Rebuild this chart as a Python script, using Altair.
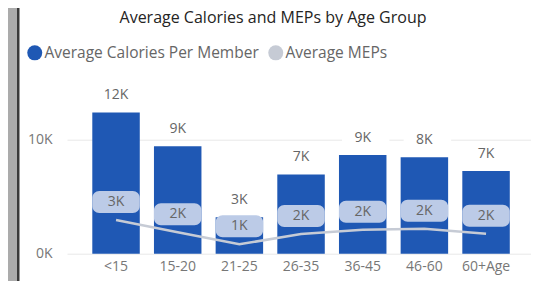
import altair as alt
import pandas as pd

ages = ["<15", "15-20", "21-25", "26-35", "36-45", "46-60", "60+Age"]
calories = [12360, 9410, 3180, 6940, 8630, 8430, 7230]
meps = [2950, 1880, 820, 1720, 2100, 2190, 1750]

S1 = "Average Calories Per Member"
S2 = "Average MEPs"
BLUE = "#1f58b4"
GREY = "#c6cbd5"
LABEL_BG = "#bccbe7"
FONT = "Open Sans"
TXT = "#666666"

df = pd.DataFrame({"age": ages, "calories": calories, "meps": meps})
one = pd.DataFrame({"k": [0]})

W, H = 464, 160

x_enc = alt.X(
    "age:N", sort=ages,
    scale=alt.Scale(paddingInner=0.23, paddingOuter=0.377, align=0.544),
    axis=alt.Axis(title=None, labelFontSize=14, labelColor="#777777", labelPadding=6,
                  ticks=False, domain=False, labelAngle=0, labelFont=FONT, grid=False, zindex=1),
)
y_enc = alt.Y(
    "calories:Q",
    scale=alt.Scale(domain=[0, 14000], nice=False),
    axis=alt.Axis(values=[0, 10000], labelExpr="datum.value / 1000 + 'K'", title=None,
                  ticks=False, domain=False, labelPadding=15, grid=True, gridColor="#e8e8e8",
                  labelFontSize=14, labelColor="#777777", labelFont=FONT),
)

base = alt.Chart(df)

strip = alt.Chart(one).mark_rect(color="#ababab").encode(
    x=alt.value(-70), x2=alt.value(-50), y=alt.value(-86), y2=alt.value(190))
edge = alt.Chart(one).mark_rect(color="#3a3a3a").encode(
    x=alt.value(-50), x2=alt.value(-47.5), y=alt.value(-86), y2=alt.value(190))

bars = base.transform_calculate(s=f"'{S1}'").mark_bar().encode(
    x=x_enc, y=y_enc,
    color=alt.Color("s:N", scale=alt.Scale(domain=[S1, S2], range=[BLUE, GREY]),
                    legend=alt.Legend(title=None, orient="none", legendX=-40, legendY=-49,
                                      direction="horizontal", symbolType="circle", symbolSize=225,
                                      symbolStrokeWidth=0, labelFontSize=15.5, labelColor=TXT,
                                      labelFont=FONT, columnPadding=9, labelOffset=2,
                                      labelLimit=0)),
)

label_bg = base.mark_rect(color="white", yOffset=-25.5, y2Offset=-9.5, xOffset=3, x2Offset=-3).encode(
    x=x_enc, y=alt.Y("calories:Q"), y2="calories:Q")

cal_text = base.transform_calculate(lab="round(datum.calories / 1000) + 'K'").mark_text(
    dy=-17.5, baseline="middle", fontSize=14, color=TXT, font=FONT).encode(
    x=x_enc, y=alt.Y("calories:Q"), text="lab:N")

line = base.mark_line(color=GREY, strokeWidth=2.5).encode(x=x_enc, y=alt.Y("meps:Q"))

mep_bg = base.mark_rect(color=LABEL_BG, cornerRadius=7, yOffset=-29, y2Offset=-7).encode(
    x=x_enc, y=alt.Y("meps:Q"), y2="meps:Q")

mep_text = base.transform_calculate(lab="round(datum.meps / 1000) + 'K'").mark_text(
    dy=-18, baseline="middle", fontSize=14, color=TXT, font=FONT).encode(
    x=x_enc, y=alt.Y("meps:Q"), text="lab:N")

chart = alt.layer(strip, edge, bars, label_bg, cal_text, line, mep_bg, mep_text).properties(
    width=W, height=H,
    autosize=alt.AutoSizeParams(type="none"),
    padding={"left": 59, "top": 85.7, "right": 0, "bottom": 27.3},
    background="white",
    title=alt.TitleParams("Average Calories and MEPs by Age Group", fontSize=16, font=FONT,
                          color="#252423", fontWeight="normal", anchor="middle", frame="group",
                          dx=-26, offset=-18, zindex=1),
).configure_view(stroke=None)

chart.save("out.html", embed_options={"renderer": "svg", "actions": False})
